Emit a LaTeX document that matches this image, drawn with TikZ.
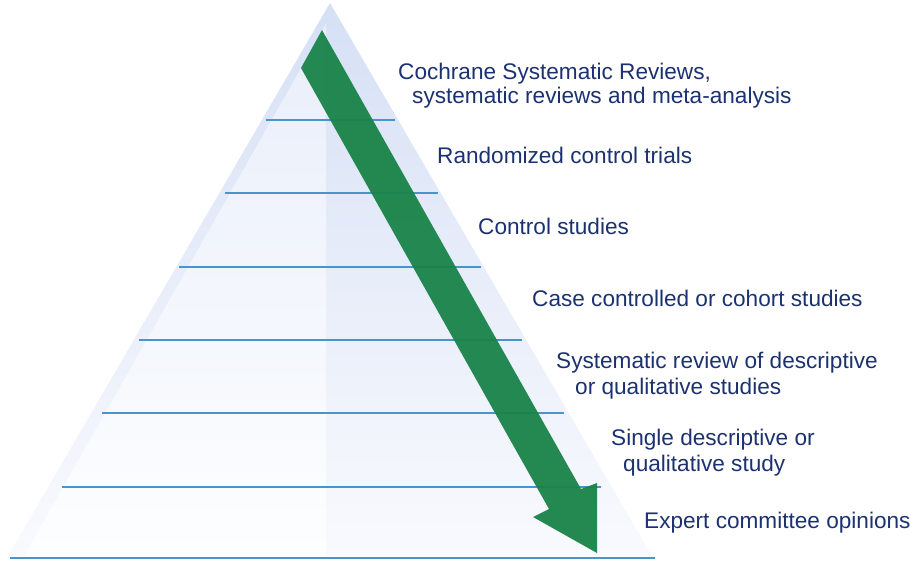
\documentclass[tikz,border=0pt]{standalone}
\usepackage{fontspec}
\setmainfont{Liberation Sans}
\definecolor{navy}{RGB}{28,50,112}
\definecolor{arrowgreen}{RGB}{25,131,72}
\definecolor{tierline}{RGB}{74,148,204}
\definecolor{outertop}{RGB}{214,224,245}
\definecolor{outerbot}{RGB}{249,250,254}
\definecolor{innertop}{RGB}{233,238,250}
\definecolor{innerbot}{RGB}{253,254,255}
\tikzset{
  label/.style={anchor=base west, inner sep=0pt, text=navy, font=\fontsize{22.6}{25}\selectfont, align=left},
  tier/.style={draw=tierline, line width=1.8pt},
}
\begin{document}
\begin{tikzpicture}[x=1pt,y=-1pt]
\useasboundingbox (0,0) rectangle (910,565);
% pyramid
\shade[top color=outertop, bottom color=outerbot] (330,3) -- (8,556) -- (652,556) -- cycle;
\shade[top color=innertop, bottom color=innerbot] (326,24) -- (24,556) -- (326,556) -- cycle;
% tiers
\draw[tier] (266,120) -- (395,120);
\draw[tier] (225,193) -- (438,193);
\draw[tier] (179,267) -- (481,267);
\draw[tier] (139,340) -- (522,340);
\draw[tier] (102,413) -- (564,413);
\draw[tier] (62,487) -- (601,487);
\draw[tier] (10,558) -- (655,558);
% arrow
\fill[arrowgreen, fill opacity=0.95] (301,68) -- (322,30) -- (581,489) -- (597,483) -- (597,553) -- (533,517) -- (549,509) -- cycle;
% labels
\node[label] (l1a) at (398,79) {Cochrane Systematic Reviews,};
\node[label] (l1b) at (412,103) {systematic reviews and meta-analysis};
\node[label] (l2) at (437,163) {Randomized control trials};
\node[label] (l3) at (478,234) {Control studies};
\node[label] (l4) at (532,306) {Case controlled or cohort studies};
\node[label] (l5a) at (556,368) {Systematic review of descriptive};
\node[label] (l5b) at (575,394) {or qualitative studies};
\node[label] (l6a) at (611,445) {Single descriptive or};
\node[label] (l6b) at (623,471) {qualitative study};
\node[label] (l7) at (644,528) {Expert committee opinions};
\end{tikzpicture}
\end{document}
